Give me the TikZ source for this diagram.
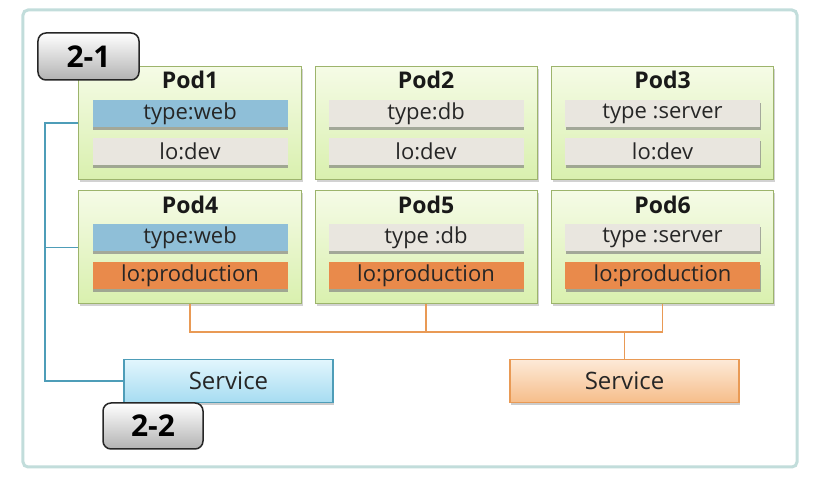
\documentclass[tikz,border=0pt]{standalone}
\usepackage{fontspec}
\setmainfont{Open Sans}
\usetikzlibrary{positioning,shadows}

\definecolor{podtop}{HTML}{F5FBE6}
\definecolor{podbot}{HTML}{D9F0AE}
\definecolor{podedge}{HTML}{9DB46C}
\definecolor{webblue}{HTML}{8FBFD8}
\definecolor{devgray}{HTML}{E9E6DF}
\definecolor{prodorange}{HTML}{E98A4B}
\definecolor{svcbluetop}{HTML}{E2F6FD}
\definecolor{svcbluebot}{HTML}{A6DCF1}
\definecolor{svcblueedge}{HTML}{4E9DB8}
\definecolor{svcorgtop}{HTML}{FDEAD8}
\definecolor{svcorgbot}{HTML}{F6BD8A}
\definecolor{svcorgedge}{HTML}{E99A55}
\definecolor{frameedge}{HTML}{C2DDDB}
\definecolor{textgray}{HTML}{262626}

\tikzset{
  frame/.style={draw=frameedge, line width=3bp, fill=white, rounded corners=5bp,
    minimum width=774bp, minimum height=457bp},
  pod/.style={draw=podedge, line width=1bp, top color=podtop, bottom color=podbot,
    minimum width=222bp, minimum height=113bp, inner sep=0pt,
    drop shadow={shadow xshift=1.5bp, shadow yshift=-2.5bp, opacity=.35}},
  podtitle/.style={font=\fontsize{23bp}{25bp}\selectfont\bfseries, text=black!90, inner sep=0pt},
  strip/.style={minimum width=195bp, minimum height=27bp, inner sep=0pt,
    text=textgray, font=\fontsize{22bp}{24bp}\selectfont,
    drop shadow={shadow xshift=0.5bp, shadow yshift=-3bp, opacity=.65}},
  webtag/.style={strip, fill=webblue},
  devtag/.style={strip, fill=devgray},
  prodtag/.style={strip, fill=prodorange},
  svc/.style={minimum height=43bp, inner sep=0pt, line width=1.2bp,
    text=textgray, font=\fontsize{24bp}{26bp}\selectfont,
    drop shadow={shadow xshift=1bp, shadow yshift=-2.5bp, opacity=.4}},
  websvc/.style={svc, draw=svcblueedge, top color=svcbluetop, bottom color=svcbluebot,
    minimum width=209bp},
  prodsvc/.style={svc, draw=svcorgedge, top color=svcorgtop, bottom color=svcorgbot,
    minimum width=229bp},
  stepno/.style={draw=black!85, line width=1.5bp, rounded corners=8bp,
    top color=white, bottom color=black!30, inner sep=0pt,
    minimum width=100bp, minimum height=46bp,
    font=\fontsize{30bp}{32bp}\selectfont\bfseries},
  webline/.style={draw=svcblueedge, line width=1.3bp},
  prodline/.style={draw=svcorgedge, line width=1.3bp}
}

\begin{document}
\begin{tikzpicture}[x=1bp, y=1bp]
  \useasboundingbox (0,0) rectangle (816,486);
  \node[frame] (frame) at (410,247.5) {};

  % pods with their labels
  \foreach \i/\cx/\cy/\typ/\tsty/\lo/\lsty in {
      1/190/363/type:web/webtag/lo:dev/devtag,
      2/426/363/type:db/devtag/lo:dev/devtag,
      3/662.5/363/type :server/devtag/lo:dev/devtag,
      4/190/238.5/type:web/webtag/lo:production/prodtag,
      5/426/238.5/type :db/devtag/lo:production/prodtag,
      6/662.5/238.5/type :server/devtag/lo:production/prodtag}{
    \node[pod] (pod\i) at (\cx,\cy) {};
    \node[podtitle] (title\i) at ([yshift=-14bp]pod\i.north) {Pod\i};
    \node[\tsty] (type\i) at ([yshift=-47.5bp]pod\i.north) {\typ};
    \node[\lsty] (lo\i) at ([yshift=-85.5bp]pod\i.north) {\lo};
  }

  % services
  \node[websvc] (websvc) at (228.5,105) {Service};
  \node[prodsvc] (prodsvc) at (624.5,105) {Service};

  % selectors
  \coordinate (webbus) at (45,0);
  \draw[webline] (pod1.west) -| (webbus |- websvc.west) -- (websvc.west);
  \draw[webline] (pod4.west) -- (pod4.west -| webbus);

  \coordinate (prodbus) at (0,154);
  \draw[prodline] (pod4.south) |- (prodbus -| pod6.south) -- (pod6.south);
  \draw[prodline] (pod5.south) -- (pod5.south |- prodbus);
  \draw[prodline] (prodsvc.north) -- (prodsvc.north |- prodbus);

  % step numbers
  \node[stepno, minimum width=101bp, minimum height=47bp] (step1) at (88.5,429.5) {2-1};
  \node[stepno] (step2) at (153,60) {2-2};
\end{tikzpicture}
\end{document}
